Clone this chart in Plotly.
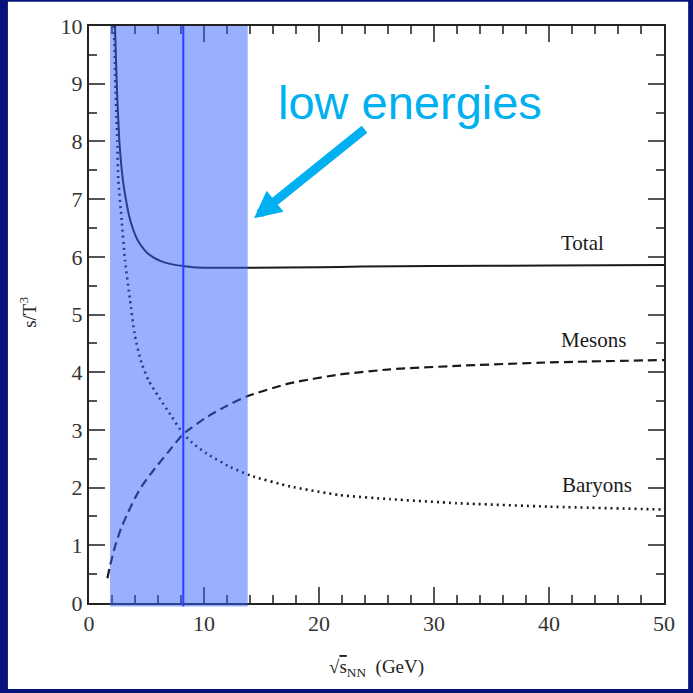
import plotly.graph_objects as go

# Entropy density over T^3 versus collision energy
total_x = [2.26, 2.35, 2.45, 2.64, 2.8, 3.0, 3.25, 3.5, 3.86, 4.2, 4.58, 5.0, 5.59, 6.2, 6.76, 7.5, 8.2, 9, 10, 12, 14, 20, 23.7, 30, 40, 50]
total_y = [10, 9.4, 8.8, 8.0, 7.6, 7.25, 6.95, 6.7, 6.46, 6.3, 6.18, 6.08, 5.99, 5.93, 5.89, 5.86, 5.84, 5.82, 5.81, 5.81, 5.81, 5.82, 5.83, 5.84, 5.85, 5.86]

baryon_x = [2.17, 2.3, 2.46, 2.55, 2.84, 3.13, 3.57, 4.0, 4.58, 5.2, 6.03, 7.19, 8.2, 9.2, 10.23, 12.26, 14.0, 17.5, 21.8, 26.2, 32, 40, 50]
baryon_y = [10, 9, 8, 7.33, 6.64, 5.94, 5.25, 4.62, 4.15, 3.85, 3.58, 3.23, 2.93, 2.74, 2.59, 2.36, 2.21, 2.02, 1.87, 1.80, 1.73, 1.67, 1.62]

meson_x = [1.6, 1.8, 2.0, 2.26, 2.8, 3.42, 4.0, 4.58, 5.3, 6.0, 6.9, 8.2, 10.23, 12, 13.7, 17.5, 21.8, 26.2, 32, 40, 50]
meson_y = [0.43, 0.62, 0.78, 0.98, 1.3, 1.58, 1.82, 2.02, 2.22, 2.40, 2.62, 2.93, 3.22, 3.42, 3.58, 3.81, 3.96, 4.05, 4.11, 4.17, 4.21]

band_range = [1.83, 13.8]   # low-energy region (GeV)
marker_energy = 8.2         # vertical marker (GeV)

curve_labels = ["Total", "Mesons", "Baryons"]
label_pos = [(42.9, 6.24), (43.9, 4.56), (44.2, 2.05)]

serif = "Liberation Serif, Times New Roman, serif"
ink = "#1a1a1a"
sky = "#00b0f0"

fig = go.Figure()
fig.add_trace(go.Scatter(x=total_x, y=total_y, mode="lines",
                         line=dict(color=ink, width=2, shape="spline", smoothing=0.5)))
fig.add_trace(go.Scatter(x=meson_x, y=meson_y, mode="lines",
                         line=dict(color=ink, width=2.2, dash="9px,5px", shape="spline", smoothing=0.5)))
fig.add_trace(go.Scatter(x=baryon_x, y=baryon_y, mode="lines",
                         line=dict(color=ink, width=2.6, dash="2px,4px", shape="spline", smoothing=0.5)))

shapes = [
    # white slide panel on the navy background
    dict(type="rect", xref="paper", yref="paper", x0=-0.141, x1=1.042, y0=-0.149, y1=1.042,
         fillcolor="white", line_width=0, layer="below"),
    # shaded low-energy band
    dict(type="rect", xref="x", yref="paper", x0=band_range[0], x1=band_range[1], y0=-0.006, y1=1.0,
         fillcolor="#3361ff", opacity=0.5, line_width=0, layer="above"),
    # vertical marker line
    dict(type="line", xref="x", yref="paper", x0=marker_energy, x1=marker_energy, y0=-0.006, y1=1.0,
         line=dict(color="#2a40ff", width=2), layer="above"),
]

annotations = []
for txt, (lx, ly) in zip(curve_labels, label_pos):
    annotations.append(dict(x=lx, y=ly, xref="x", yref="y", text=txt, showarrow=False,
                            xanchor="center", yanchor="middle",
                            font=dict(family=serif, size=21, color=ink)))

annotations += [
    dict(x=0.5, y=-0.113, xref="paper", yref="paper", showarrow=False,
         xanchor="center", yanchor="middle",
         text="\u221a<span style='text-decoration:overline'>s</span><sub>NN</sub>  (GeV)",
         font=dict(family=serif, size=19, color="#222")),
    dict(x=-0.106, y=0.503, xref="paper", yref="paper", showarrow=False, textangle=-90,
         xanchor="center", yanchor="middle",
         text="s/T<sup>3</sup>", font=dict(family=serif, size=19, color="#222")),
    dict(x=0.558, y=0.868, xref="paper", yref="paper", showarrow=False,
         xanchor="center", yanchor="middle",
         text="low energies", font=dict(family="Liberation Sans, Arial, sans-serif", size=47, color=sky)),
    dict(x=14.35, y=6.67, xref="x", yref="y", text="", showarrow=True, ax=112, ay=-90,
         arrowhead=2, arrowsize=0.6, arrowwidth=9, arrowcolor=sky),
]

axis_common = dict(
    showline=True, linecolor="#222", linewidth=2, mirror="allticks",
    ticks="inside", ticklen=16, tickwidth=1.5, tickcolor="#555",
    showgrid=False, zeroline=False,
    tickfont=dict(family=serif, size=22, color="#333"),
)

fig.update_layout(
    width=693, height=693,
    margin=dict(l=89, r=29, t=26, b=90),
    paper_bgcolor="#06137a", plot_bgcolor="white",
    showlegend=False,
    shapes=shapes, annotations=annotations,
    xaxis=dict(range=[0, 50], dtick=10, tick0=0,
               minor=dict(dtick=2, ticklen=8, tickcolor="#555", ticks="inside", showgrid=False),
               **axis_common),
    yaxis=dict(range=[0, 10], dtick=1, tick0=0,
               minor=dict(dtick=0.5, ticklen=8, tickcolor="#555", ticks="inside", showgrid=False),
               **axis_common),
)

fig.write_html("out.html")
